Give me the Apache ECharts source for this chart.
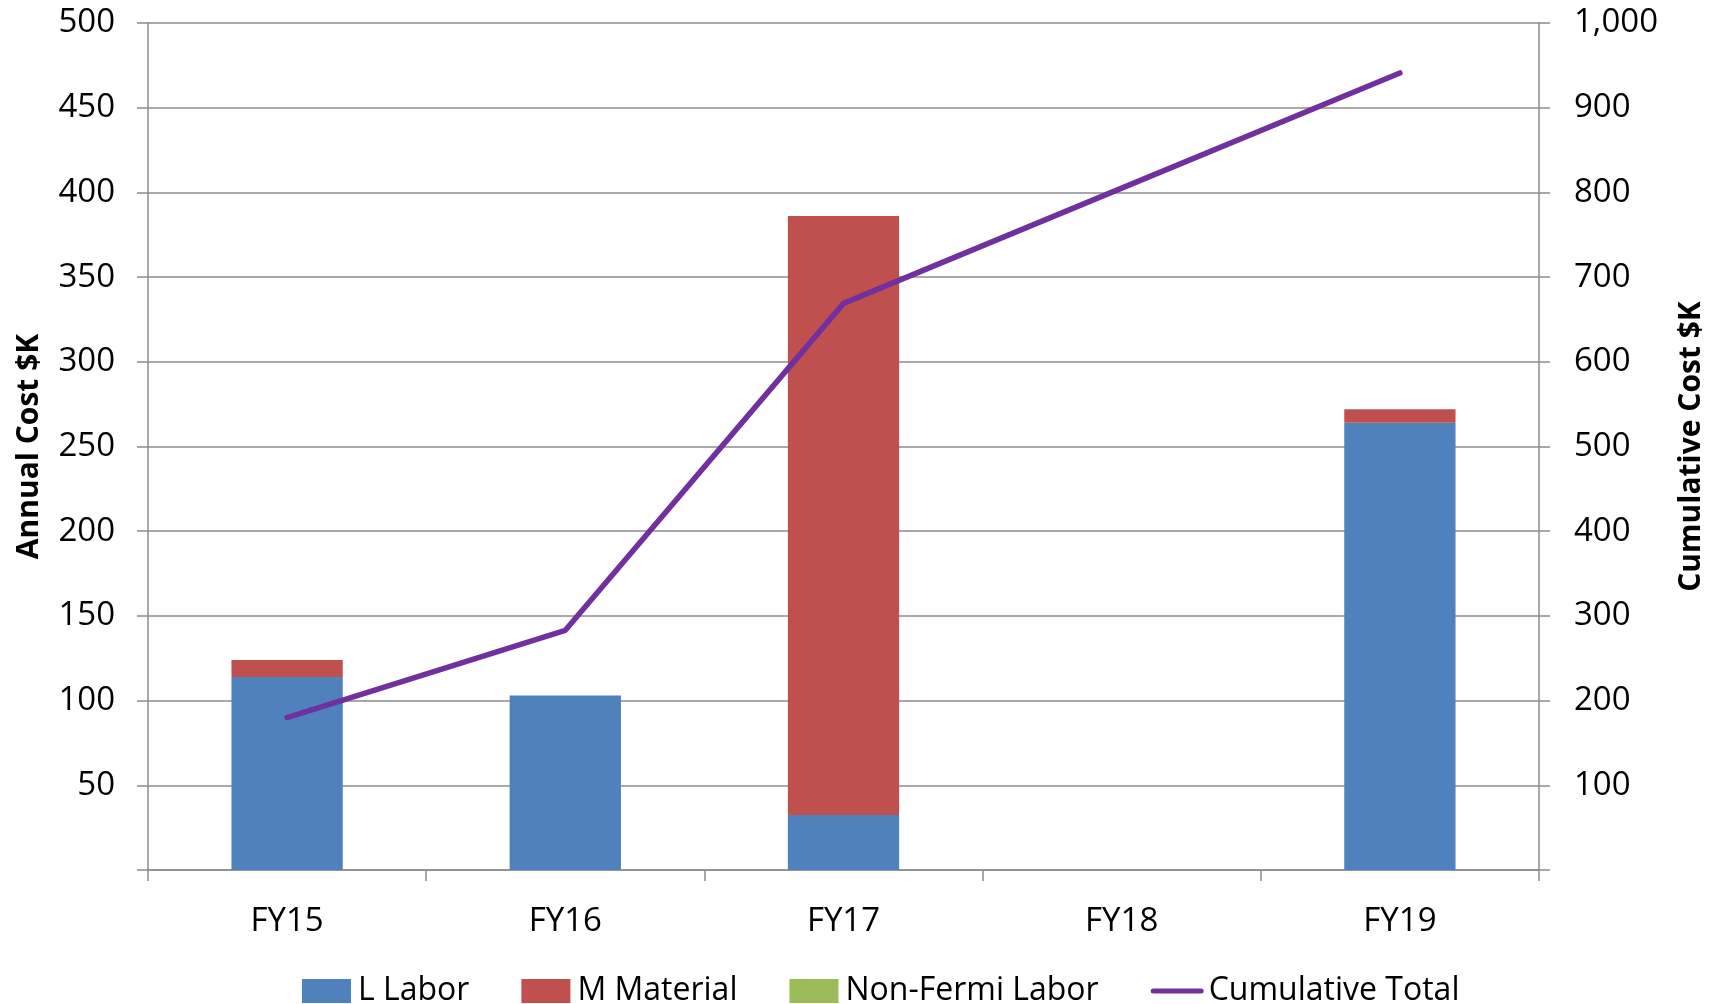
<!DOCTYPE html>
<html>
<head>
<meta charset="utf-8">
<title>Annual and Cumulative Cost</title>
<script src="https://cdn.jsdelivr.net/npm/echarts@6/dist/echarts.min.js"></script>
<style>
  html, body { margin: 0; padding: 0; background: #ffffff; }
  #chart { width: 1721px; height: 1004px; }
</style>
</head>
<body>
<div id="chart"></div>
<script>
// Fiscal years
const categories = ['FY15', 'FY16', 'FY17', 'FY18', 'FY19'];

// Annual cost by type, $K
const laborValues = [114, 103, 32.5, 0, 264];
const materialValues = [10, 0, 353.5, 0, 8];
const nonFermiLaborValues = [0, 0, 0, 0, 0];

// Cumulative cost, $K
const cumulativeValues = [180, 283, 669, 805, 941];

// Axis ranges
const annualMax = 500;
const annualStep = 50;
const cumulativeMax = 1000;
const cumulativeStep = 100;

const FONT = '"Open Sans", "Liberation Sans", sans-serif';
const GRID_GRAY = '#8c8c8c';
const PURPLE = '#7030a0';

// Legend swatches: square blocks for bars, a long rounded stroke for the line
const SWATCH_BLOCK = 'path://M0,0 L49,0 L49,24 L0,24 Z';
const SWATCH_LINE = 'path://M2.5,0 L50.5,0 A2.5,2.5 0 0 1 50.5,5 L2.5,5 A2.5,2.5 0 0 1 2.5,0 Z';

const chart = echarts.init(document.getElementById('chart'), null, { renderer: 'canvas' });

const tickLabel = {
  color: '#000000',
  fontFamily: FONT,
  fontSize: 33
};

chart.setOption({
  animation: false,
  backgroundColor: '#ffffff',
  grid: { left: 148, right: 182, top: 23, bottom: 134, containLabel: false },
  legend: {
    left: 297,
    top: 970,
    itemWidth: 53,
    itemHeight: 24,
    itemGap: 52,
    symbolKeepAspect: true,
    textStyle: { color: '#000000', fontFamily: FONT, fontSize: 32 },
    data: [
      { name: 'L Labor', icon: SWATCH_BLOCK },
      { name: 'M Material', icon: SWATCH_BLOCK },
      { name: 'Non-Fermi Labor', icon: SWATCH_BLOCK },
      { name: 'Cumulative Total', icon: SWATCH_LINE }
    ]
  },
  xAxis: {
    type: 'category',
    data: categories,
    boundaryGap: true,
    axisLine: { lineStyle: { color: GRID_GRAY, width: 1.5 } },
    axisTick: { show: true, length: 11, inside: false, lineStyle: { color: GRID_GRAY, width: 1.5 } },
    axisLabel: Object.assign({ margin: 35 }, tickLabel),
    splitLine: { show: false }
  },
  yAxis: [
    {
      type: 'value',
      min: 0,
      max: annualMax,
      interval: annualStep,
      name: 'Annual Cost $K',
      nameLocation: 'middle',
      nameRotate: 90,
      nameGap: 104,
      nameTextStyle: { color: '#000000', fontFamily: FONT, fontSize: 30, fontWeight: 'bold' },
      axisLine: { show: true, lineStyle: { color: GRID_GRAY, width: 1.5 } },
      axisTick: { show: true, length: 11, lineStyle: { color: GRID_GRAY, width: 1.5 } },
      axisLabel: Object.assign({
        margin: 33,
        formatter: v => (v === 0 ? '' : String(v))
      }, tickLabel),
      splitLine: { show: true, lineStyle: { color: GRID_GRAY, width: 1.5 } }
    },
    {
      type: 'value',
      min: 0,
      max: cumulativeMax,
      interval: cumulativeStep,
      position: 'right',
      name: 'Cumulative Cost $K',
      nameLocation: 'middle',
      nameRotate: 90,
      nameGap: 137,
      nameTextStyle: { color: '#000000', fontFamily: FONT, fontSize: 30, fontWeight: 'bold' },
      axisLine: { show: true, lineStyle: { color: GRID_GRAY, width: 1.5 } },
      axisTick: { show: true, length: 11, lineStyle: { color: GRID_GRAY, width: 1.5 } },
      axisLabel: Object.assign({
        margin: 35,
        formatter: v => (v === 0 ? '' : v.toLocaleString('en-US'))
      }, tickLabel),
      splitLine: { show: false }
    }
  ],
  series: [
    {
      name: 'L Labor',
      type: 'bar',
      stack: 'annual',
      barWidth: '40%',
      itemStyle: { color: '#4f81bd' },
      data: laborValues
    },
    {
      name: 'M Material',
      type: 'bar',
      stack: 'annual',
      barWidth: '40%',
      itemStyle: { color: '#c0504d' },
      data: materialValues
    },
    {
      name: 'Non-Fermi Labor',
      type: 'bar',
      stack: 'annual',
      barWidth: '40%',
      itemStyle: { color: '#9bbb59' },
      data: nonFermiLaborValues
    },
    {
      name: 'Cumulative Total',
      type: 'line',
      yAxisIndex: 1,
      symbol: 'none',
      smooth: false,
      lineStyle: { color: PURPLE, width: 5.5, cap: 'round', join: 'round' },
      itemStyle: { color: PURPLE },
      data: cumulativeValues,
      z: 5
    }
  ]
});
</script>
</body>
</html>
